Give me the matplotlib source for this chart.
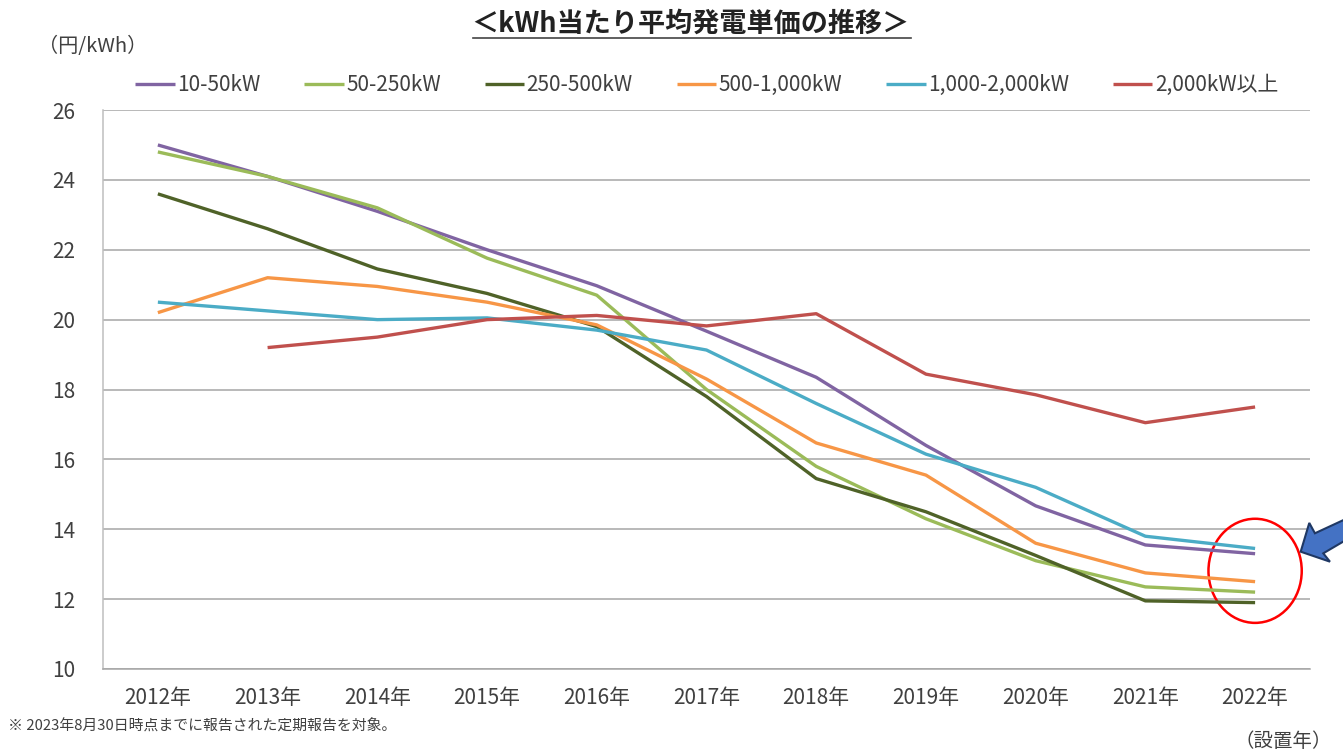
import numpy as np
import matplotlib.pyplot as plt
from matplotlib.patches import Ellipse, Polygon
from matplotlib.lines import Line2D

plt.rcParams['font.family'] = ['Noto Sans CJK JP', 'DejaVu Sans']

years = ['2012年', '2013年', '2014年', '2015年', '2016年', '2017年',
         '2018年', '2019年', '2020年', '2021年', '2022年']
labels = ['10-50kW', '50-250kW', '250-500kW', '500-1,000kW',
          '1,000-2,000kW', '2,000kW以上']
colors = ['#8064A2', '#9BBB59', '#4F6228', '#F79646', '#4BACC6', '#C0504D']

kw_10_50 = [25.0, 24.1, 23.1, 22.0, 20.97, 19.67, 18.35, 16.4, 14.67, 13.55, 13.3]
kw_50_250 = [24.8, 24.1, 23.2, 21.76, 20.7, 18.0, 15.8, 14.3, 13.1, 12.35, 12.2]
kw_250_500 = [23.6, 22.6, 21.45, 20.75, 19.8, 17.8, 15.45, 14.5, 13.25, 11.95, 11.9]
kw_500_1000 = [20.2, 21.2, 20.95, 20.5, 19.85, 18.3, 16.47, 15.55, 13.6, 12.75, 12.5]
kw_1000_2000 = [20.5, 20.25, 20.0, 20.05, 19.7, 19.13, 17.6, 16.15, 15.2, 13.8, 13.45]
kw_2000_up = [np.nan, 19.2, 19.5, 20.0, 20.12, 19.82, 20.17, 18.44, 17.85, 17.05, 17.5]

series = [kw_10_50, kw_50_250, kw_250_500, kw_500_1000, kw_1000_2000, kw_2000_up]

fig = plt.figure(figsize=(13.43, 7.51), dpi=100)
ax = fig.add_axes([0.0767, 0.1092, 0.8987, 0.7443])

x = np.arange(len(years))
for vals, lab, col in zip(series, labels, colors):
    ax.plot(x, vals, color=col, lw=2.4, label=lab, solid_capstyle='butt')

ax.set_xlim(-0.5, 10.5)
ax.set_ylim(10, 26)
ax.set_yticks(range(10, 27, 2))
ax.set_xticks(x)
ax.set_xticklabels(years)
ax.grid(axis='y', color='#a6a6a6', lw=1.1)
ax.set_axisbelow(True)
for s in ['top', 'right']:
    ax.spines[s].set_visible(False)
ax.spines['left'].set_color('#bfbfbf')
ax.spines['bottom'].set_color('#a6a6a6')
ax.spines['left'].set_linewidth(1.1)
ax.spines['bottom'].set_linewidth(1.1)
ax.tick_params(axis='both', length=0, labelsize=15, colors='#404040')
ax.tick_params(axis='y', pad=20)
ax.tick_params(axis='x', pad=13)

ax.legend(loc='upper left', bbox_to_anchor=(0.011, 1.098), ncol=6, frameon=False,
          fontsize=15, handlelength=1.9, handletextpad=0.12, columnspacing=2.1,
          labelcolor='#404040')

# title with underline
fig.text(0.514, 0.969, '＜kWh当たり平均発電単価の推移＞', ha='center', va='center',
         fontsize=19.5, fontweight='bold', color='#222222')
fig.add_artist(Line2D([0.352, 0.678], [0.950, 0.950], color='#444444', lw=1.2))

fig.text(0.028, 0.938, '（円/kWh）', fontsize=14.5, color='#404040', va='center')
fig.text(0.006, 0.032, '※ 2023年8月30日時点までに報告された定期報告を対象。',
         fontsize=10.7, color='#404040', va='center')
fig.text(0.992, 0.012, '（設置年）', fontsize=14, color='#404040', ha='right', va='center')

# red circle highlight
ax.add_patch(Ellipse((10.0, 12.81), 0.85, 2.98, fill=False, edgecolor='#ff0000', lw=1.8,
                     clip_on=False))

# blue block arrow pointing to circle
arrow = Polygon([[0.9685, 0.2654], [0.9749, 0.3037], [0.9791, 0.2899], [1.0149, 0.3196],
                 [1.0149, 0.2943], [0.9853, 0.2632], [0.9903, 0.2521]],
                closed=True, facecolor='#4472C4', edgecolor='#1F3864', lw=1.5,
                transform=fig.transFigure)
fig.add_artist(arrow)

fig.savefig('out.png', dpi=100)
